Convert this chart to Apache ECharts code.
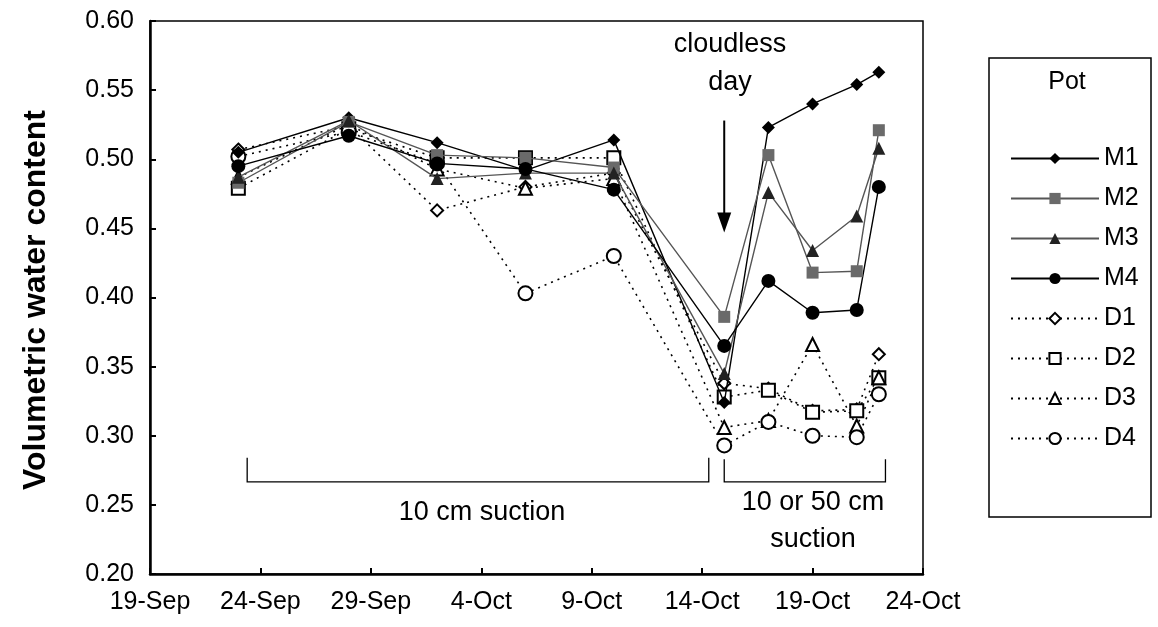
<!DOCTYPE html>
<html><head><meta charset="utf-8">
<script src="https://cdn.jsdelivr.net/npm/echarts@6/dist/echarts.min.js"></script>
<style>html,body{margin:0;padding:0;background:#fff}#c{width:1158px;height:627px}</style>
</head><body><div id="c"></div><script>
// ---- data ----
const sampleDates = ['23-Sep','28-Sep','2-Oct','6-Oct','10-Oct','15-Oct','17-Oct','19-Oct','21-Oct','22-Oct'];
const tickLabels = ['19-Sep','24-Sep','29-Sep','4-Oct','9-Oct','14-Oct','19-Oct','24-Oct'];
const M1 = [0.505, 0.530, 0.512, 0.492, 0.514, 0.324, 0.523, 0.540, 0.554, 0.563];
const M2 = [0.483, 0.527, 0.503, 0.501, 0.494, 0.386, 0.503, 0.418, 0.419, 0.521];
const M3 = [0.487, 0.528, 0.486, 0.490, 0.490, 0.345, 0.476, 0.434, 0.459, 0.508];
const M4 = [0.495, 0.517, 0.497, 0.493, 0.478, 0.365, 0.412, 0.389, 0.391, 0.480];
const D1 = [0.507, 0.524, 0.463, 0.480, 0.490, 0.338, 0.334, 0.318, 0.319, 0.359];
const D2 = [0.479, 0.522, 0.501, 0.501, 0.501, 0.328, 0.333, 0.317, 0.318, 0.342];
const D3 = [0.487, 0.525, 0.493, 0.479, 0.486, 0.306, 0.311, 0.366, 0.307, 0.342];
const D4 = [0.502, 0.520, 0.497, 0.403, 0.430, 0.293, 0.310, 0.300, 0.299, 0.330];

const MON = {Sep: 8, Oct: 9};
function dayOffset(s) {
  const p = s.split('-');
  return (Date.UTC(2000, MON[p[1]], +p[0]) - Date.UTC(2000, 8, 19)) / 86400000;
}
const xs = sampleDates.map(dayOffset);
const pts = arr => arr.map((v, i) => [xs[i], v]);

const FONT = 'Liberation Sans';
const chart = echarts.init(document.getElementById('c'), null, {renderer: 'canvas'});

function mSeries(name, data, symbol, size, color, lineColor) {
  return {
    name, type: 'line', data: pts(data), symbol, symbolSize: size,
    itemStyle: {color: color, borderColor: color, borderWidth: 0},
    lineStyle: {color: lineColor, width: 1.4, type: 'solid'},
    emphasis: {disabled: true}, z: 3
  };
}
function dSeries(name, data, symbol, size) {
  return {
    name, type: 'line', data: pts(data), symbol, symbolSize: size,
    itemStyle: {color: '#000', borderColor: '#000', borderWidth: 1.3},
    lineStyle: {color: '#000', width: 1.6, type: [2, 5]},
    emphasis: {disabled: true}, z: 2
  };
}

chart.setOption({
  animation: false,
  backgroundColor: '#fff',
  textStyle: {fontFamily: FONT},
  grid: {left: 150, right: 235, top: 21, bottom: 53, show: true, borderColor: '#000', borderWidth: 1.5, backgroundColor: 'transparent'},
  xAxis: {
    type: 'value', min: 0, max: 35, interval: 5,
    axisLine: {lineStyle: {color: '#000', width: 2.5}},
    axisTick: {inside: true, length: 6, lineStyle: {color: '#000', width: 2}},
    axisLabel: {color: '#000', fontSize: 25, fontFamily: FONT, margin: 16,
      formatter: v => tickLabels[Math.round(v / 5)] || ''},
    splitLine: {show: false}
  },
  yAxis: {
    type: 'value', min: 0.2, max: 0.6, interval: 0.05,
    axisLine: {lineStyle: {color: '#000', width: 2.5}},
    axisTick: {inside: true, length: 6, lineStyle: {color: '#000', width: 2}},
    axisLabel: {color: '#000', fontSize: 25, fontFamily: FONT, margin: 16,
      formatter: v => v.toFixed(2)},
    splitLine: {show: false}
  },
  legend: {
    orient: 'vertical', left: 1010, top: 146, itemWidth: 88, itemHeight: 14, itemGap: 15,
    padding: 0, selectedMode: false,
    textStyle: {color: '#000', fontSize: 25, fontFamily: FONT},
    data: ['M1','M2','M3','M4','D1','D2','D3','D4']
  },
  series: [
    mSeries('M1', M1, 'diamond', 13, '#000', '#000'),
    mSeries('M2', M2, 'rect', 12, '#6a6a6a', '#555'),
    mSeries('M3', M3, 'triangle', 13, '#222', '#555'),
    mSeries('M4', M4, 'circle', 14, '#000', '#000'),
    dSeries('D1', D1, 'emptyDiamond', 12),
    dSeries('D2', D2, 'emptyRect', 13),
    dSeries('D3', D3, 'emptyTriangle', 13),
    dSeries('D4', D4, 'emptyCircle', 14)
  ]
});

// ---- annotations ----
const P = (x, y) => chart.convertToPixel({gridIndex: 0}, [x, y]);
const a0 = P(26, 0.528), a1 = P(26, 0.447);
const b1l = P(4.4, 0.2666), b1r = P(25.3, 0.2666), b1t = P(4.4, 0.284), b1rt = P(25.3, 0.284);
const b2l = P(26.0, 0.2666), b2r = P(33.3, 0.2666), b2t = P(26.0, 0.283), b2rt = P(33.3, 0.283);
const line = (pts, w) => ({type: 'polyline', shape: {points: pts}, style: {stroke: '#000', lineWidth: w || 1.3, fill: null}, z: 10});
const txt = (x, y, s, size, extra) => Object.assign({type: 'text', x, y, style: {text: s, fill: '#000', font: (size || 27) + 'px "' + FONT + '"', textAlign: 'center', textVerticalAlign: 'middle'}, z: 10}, extra || {});

chart.setOption({
  graphic: [
    line([a0, [a1[0], a1[1] - 18]], 2),
    {type: 'polygon', shape: {points: [[a1[0] - 7, a1[1] - 20], [a1[0] + 7, a1[1] - 20], [a1[0], a1[1]]]}, style: {fill: '#000'}, z: 10},
    txt(730, 45, 'cloudless'),
    txt(730, 83, 'day'),
    line([b1t, b1l, b1r, b1rt]),
    line([b2t, b2l, b2r, b2rt]),
    txt(482, 513, '10 cm suction'),
    txt(813, 503, '10 or 50 cm'),
    txt(813, 540, 'suction'),
    {type: 'rect', shape: {x: 989, y: 58, width: 162, height: 459}, style: {fill: null, stroke: '#000', lineWidth: 1.5}, z: 10},
    txt(1067, 82, 'Pot', 25),
    {type: 'text', x: 36, y: 300, rotation: Math.PI / 2,
      style: {text: 'Volumetric water content', fill: '#000', font: 'bold 32px "' + FONT + '"', textAlign: 'center', textVerticalAlign: 'middle'}, z: 10}
  ]
});
</script></body></html>
